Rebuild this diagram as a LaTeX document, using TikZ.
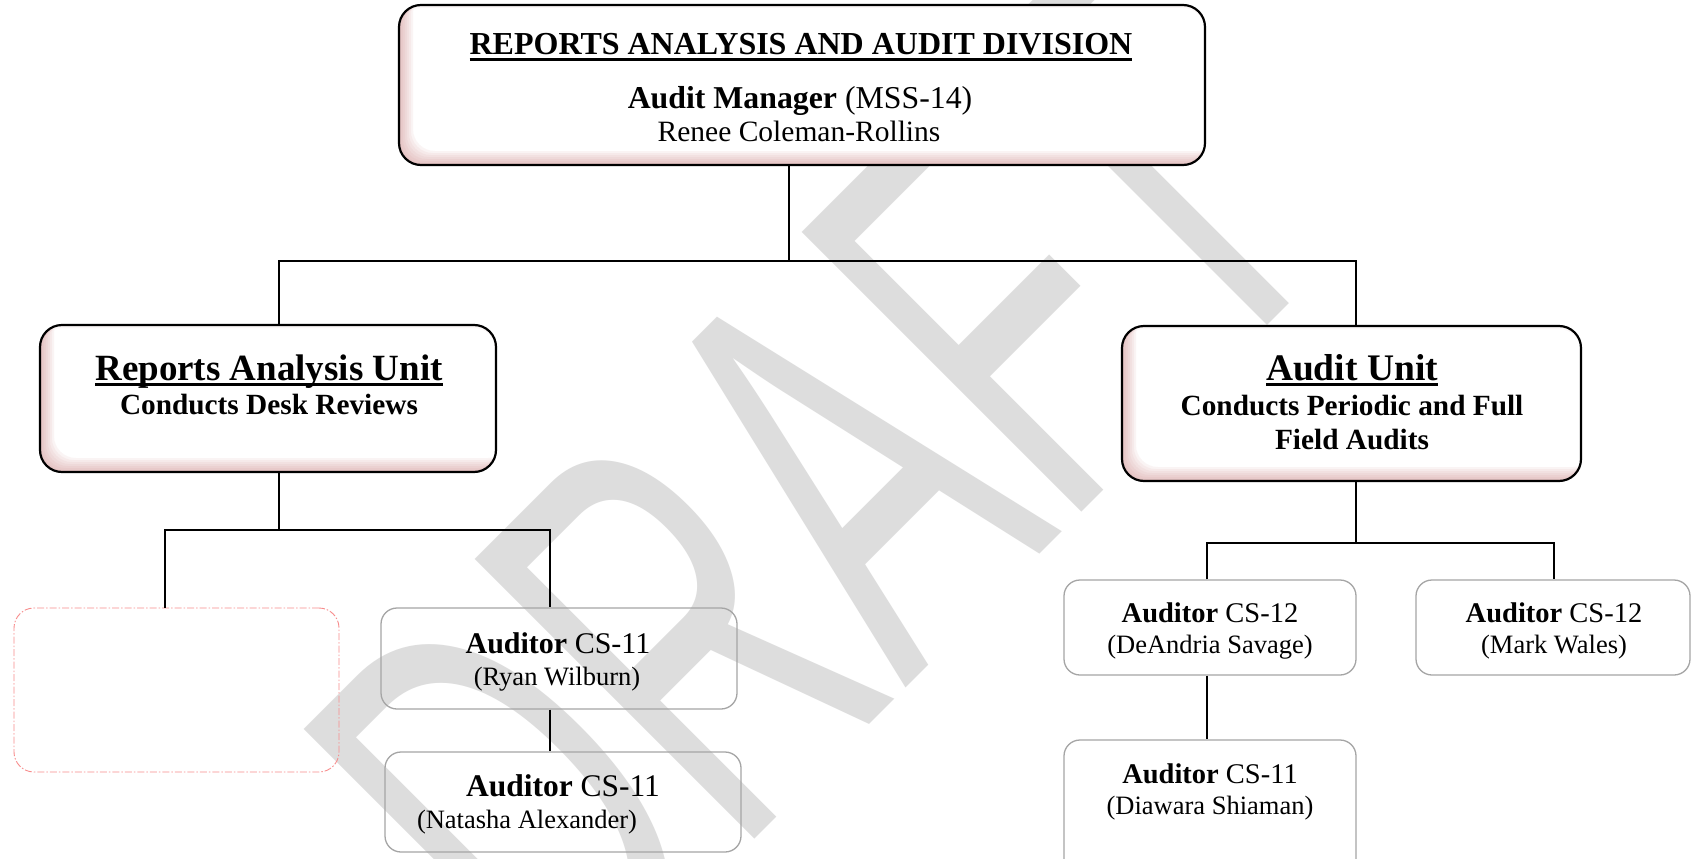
\documentclass[tikz,border=0pt]{standalone}
\usepackage{fontspec}
\setmainfont{Liberation Serif}
\newfontfamily\wmfont{Liberation Sans}
\definecolor{wmgray}{RGB}{221,221,221}
\definecolor{boxgray}{RGB}{165,165,165}
\definecolor{dashpink}{RGB}{248,140,140}
\definecolor{shadowpink}{RGB}{200,120,120}
\newcommand\ulx[1]{\setbox0=\hbox{#1}\leavevmode\rlap{\vrule width\wd0 height -3pt depth 6pt}\box0}
\newcommand\fs[1]{\fontsize{#1}{#1}\selectfont}
\newcommand\innershadow[4]{%
  \begin{scope}
    \clip[rounded corners=22pt] (#1,#2) rectangle (#3,#4);
    \fill[white] (#1,#2) rectangle (#3,#4);
    \foreach \d in {2,4,...,14} {
      \fill[shadowpink, opacity=0.075, even odd rule, rounded corners=22pt]
        (#1,#2) rectangle (#3,#4)
        ([shift={(\d,-\d)}]#1,#2) rectangle ([shift={(\d,-\d)}]#3,#4);}
    \fill[shadowpink, opacity=0.06, even odd rule, rounded corners=22pt]
        (#1,#2) rectangle (#3,#4)
        ([shift={(0,3)}]#1,#2) rectangle ([shift={(0,3)}]#3,#4);
  \end{scope}}
\tikzset{
  mainbox/.style={draw=black, line width=2.2pt, rounded corners=22pt, inner sep=0pt},
  audbox/.style={draw=boxgray, line width=1.3pt, rounded corners=16pt, inner sep=0pt},
  emptybox/.style={draw=dashpink, line width=0.9pt, rounded corners=20pt, inner sep=0pt,
    dash pattern=on 7pt off 2pt on 1.5pt off 2pt},
  conn/.style={draw=black, line width=1.8pt},
  txt/.style={anchor=base, inner sep=0pt, align=center},
}
\newcommand\boxnode[6]{\node[#1, minimum width={#5-#3}, minimum height={#6-#4}] (#2) at ({(#3+#5)/2},{(#4+#6)/2}) {};}
\begin{document}
\begin{tikzpicture}[x=1pt,y=-1pt]
\useasboundingbox (0,0) rectangle (1692,859);
\fill[white] (0,0) rectangle (1692,859);
% watermark
\node[inner sep=0pt, rotate=45, text=wmgray] (wm) at (818,496)
  {\scalebox{0.58}[1]{\wmfont\fontsize{575}{575}\selectfont DRAFT}};
% main boxes
\innershadow{399}{5}{1205}{165}
\boxnode{mainbox}{top}{399}{5}{1205}{165}
\innershadow{40}{325}{496}{472}
\boxnode{mainbox}{rau}{40}{325}{496}{472}
\innershadow{1122}{326}{1581}{481}
\boxnode{mainbox}{au}{1122}{326}{1581}{481}
% staff boxes
\boxnode{emptybox}{vac}{14}{608}{339}{772}
\boxnode{audbox}{ryan}{381}{608}{737}{709}
\boxnode{audbox}{nat}{385}{752}{741}{852}
\boxnode{audbox}{dea}{1064}{580}{1356}{675}
\boxnode{audbox}{mark}{1416}{580}{1690}{675}
\boxnode{audbox}{dia}{1064}{740}{1356}{900}
% texts
\node[txt] (t1) at (801,55) {\fs{32}\bfseries\ulx{REPORTS ANALYSIS AND AUDIT DIVISION}};
\node[txt] (t2) at (800,108) {\fs{31.8}\textbf{Audit Manager} (MSS-14)};
\node[txt] (t3) at (799,141) {\fs{29.5}Renee Coleman-Rollins};
\node[txt] (r1) at (269,380) {\fs{37}\bfseries\ulx{Reports Analysis Unit}};
\node[txt] (r2) at (269,414) {\fs{29.3}\bfseries Conducts Desk Reviews};
\node[txt] (a1) at (1352,380) {\fs{37.5}\bfseries\ulx{Audit Unit}};
\node[txt] (a2) at (1352,415) {\fs{29.3}\bfseries Conducts Periodic and Full};
\node[txt] (a3) at (1352,449) {\fs{29.3}\bfseries Field Audits};
\node[txt] (ry1) at (558,653) {\fs{30}\textbf{Auditor} CS-11};
\node[txt] (ry2) at (557,685) {\fs{26.5}(Ryan Wilburn)};
\node[txt] (na1) at (563,796) {\fs{31.5}\textbf{Auditor} CS-11};
\node[txt] (na2) at (527,828) {\fs{26.5}(Natasha Alexander)};
\node[txt] (de1) at (1210,622) {\fs{28.5}\textbf{Auditor} CS-12};
\node[txt] (de2) at (1210,653) {\fs{26.5}(DeAndria Savage)};
\node[txt] (mk1) at (1554,622) {\fs{28.5}\textbf{Auditor} CS-12};
\node[txt] (mk2) at (1554,653) {\fs{26.5}(Mark Wales)};
\node[txt] (di1) at (1210,783) {\fs{28.5}\textbf{Auditor} CS-11};
\node[txt] (di2) at (1210,814) {\fs{26.5}(Diawara Shiaman)};
% connectors
\coordinate (jT) at (789,261);
\coordinate (jL) at (279,261);
\coordinate (jR) at (1356,261);
\draw[conn] (jT |- top.south) -- (jT);
\draw[conn] (jL |- rau.north) -- (jL) -- (jR) -- (jR |- au.north);
\coordinate (jL2) at (279,530);
\coordinate (jLa) at (165,530);
\coordinate (jLb) at (550,530);
\draw[conn] (jL2 |- rau.south) -- (jL2);
\draw[conn] (jLa |- vac.north) -- (jLa) -- (jLb) -- (jLb |- ryan.north);
\draw[conn] (jLb |- ryan.south) -- (jLb |- nat.north);
\coordinate (jR2) at (1356,543);
\coordinate (jRa) at (1207,543);
\coordinate (jRb) at (1554,543);
\draw[conn] (jR2 |- au.south) -- (jR2);
\draw[conn] (jRa |- dea.north) -- (jRa) -- (jRb) -- (jRb |- mark.north);
\draw[conn] (jRa |- dea.south) -- (jRa |- dia.north);
\end{tikzpicture}
\end{document}
